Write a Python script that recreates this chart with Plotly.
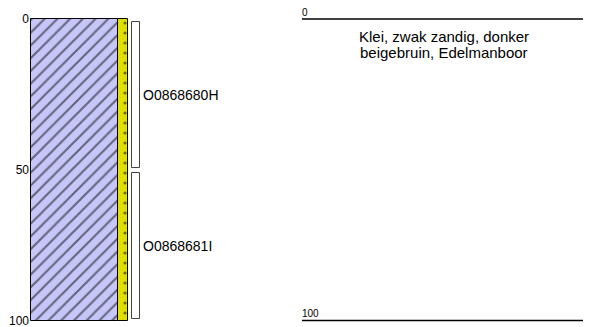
import plotly.graph_objects as go

# ---- data ----
layer_top = [0]
layer_bottom = [100]
layer_description = ["Klei, zwak zandig, donker", "beigebruin, Edelmanboor"]

sample_names = ["O0868680H", "O0868681I"]
sample_top = [1, 51]
sample_bottom = [49.5, 99.5]

depth_ticks = [0, 50, 100]
depth_tick_labels = ["0", "50", "100"]
scale_marks = [0, 100]

# ---- styles / layout positions (x in page-pixel-like units) ----
LAVENDER = "#C6C6F8"
YELLOW = "#E0E000"
PAGE_W, PAGE_H = 591, 327
BODY_MARGIN = 8          # default browser body margin around the plot div
W, H = PAGE_W - BODY_MARGIN, PAGE_H - BODY_MARGIN
PX_TOP, PX_PER_UNIT = 19, 3.015
X_LEFT = 30

fig = go.Figure()

thick = [b - t for t, b in zip(layer_top, layer_bottom)]

# main lithology (clay, hatched)
fig.add_trace(go.Bar(
    x=[74.5] * len(layer_top), y=thick, base=layer_top, width=[87] * len(layer_top),
    marker=dict(color=LAVENDER,
                pattern=dict(shape="/", size=9, solidity=0.22, fgcolor="black", bgcolor=LAVENDER),
                line=dict(color="black", width=1)),
    hoverinfo="skip", showlegend=False))

# sand admixture strip (dotted yellow)
fig.add_trace(go.Bar(
    x=[123] * len(layer_top), y=thick, base=layer_top, width=[10] * len(layer_top),
    marker=dict(color=YELLOW,
                pattern=dict(shape=".", size=10, solidity=0.08, fgcolor="black", bgcolor=YELLOW),
                line=dict(color="black", width=1)),
    hoverinfo="skip", showlegend=False))

# sample boxes
fig.add_trace(go.Bar(
    x=[136] * len(sample_names),
    y=[b - t for t, b in zip(sample_top, sample_bottom)],
    base=sample_top, width=[8] * len(sample_names),
    marker=dict(color="white", line=dict(color="#444444", width=1)),
    hoverinfo="skip", showlegend=False))

# scale lines on the right
for d in scale_marks:
    fig.add_trace(go.Scatter(x=[302, PAGE_W], y=[d, d], mode="lines",
                             line=dict(color="black", width=1.3),
                             hoverinfo="skip", showlegend=False))

FONT = "Liberation Sans, Arial"
annotations = []
for name, t, b in zip(sample_names, sample_top, sample_bottom):
    annotations.append(dict(x=141, y=(t + b) / 2, text=name, showarrow=False,
                            xanchor="left", yanchor="middle",
                            font=dict(size=14, color="black", family=FONT)))
for d in scale_marks:
    annotations.append(dict(x=300, y=d, text=str(d), showarrow=False,
                            xanchor="left", yanchor="middle", yshift=7,
                            font=dict(size=10, color="black", family=FONT)))
for i, line in enumerate(layer_description):
    annotations.append(dict(x=444, y=layer_top[0], text=line, showarrow=False,
                            xanchor="center", yanchor="middle", yshift=-(17 + 16 * i),
                            font=dict(size=15, color="black", family=FONT)))

y_lo = -(PX_TOP - BODY_MARGIN) / PX_PER_UNIT
y_hi = (PAGE_H - PX_TOP) / PX_PER_UNIT

fig.update_layout(
    width=W, height=H,
    margin=dict(l=X_LEFT - BODY_MARGIN, r=0, t=0, b=0),
    paper_bgcolor="white", plot_bgcolor="white",
    barmode="overlay", bargap=0,
    xaxis=dict(range=[X_LEFT, PAGE_W], visible=False, fixedrange=True),
    yaxis=dict(range=[y_hi, y_lo], tickvals=depth_ticks, ticktext=depth_tick_labels,
               showgrid=False, zeroline=False, showline=False, ticks="",
               tickfont=dict(size=12, color="black", family=FONT),
               ticklabeloverflow="allow",
               automargin=False, fixedrange=True),
    annotations=annotations,
    showlegend=False,
)

fig.write_html("out.html")
